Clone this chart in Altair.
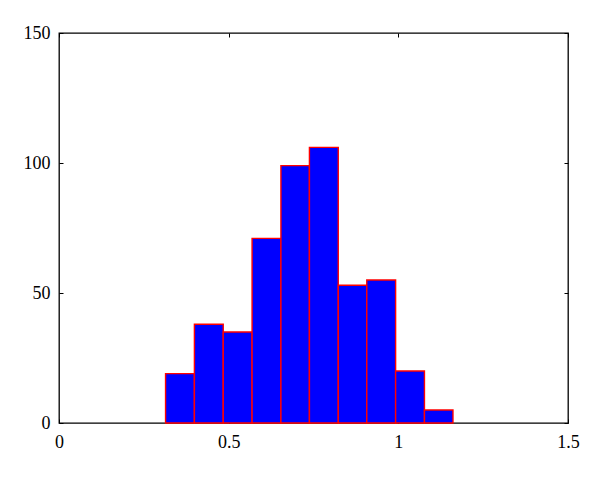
import altair as alt
import pandas as pd

bin_edges = [0.314, 0.399, 0.484, 0.569, 0.654, 0.738, 0.823, 0.907, 0.992, 1.077, 1.161]
counts = [19, 38, 35, 71, 99, 106, 53, 55, 20, 5]
x_ticks = [0, 0.5, 1, 1.5]
y_ticks = [0, 50, 100, 150]

df = pd.DataFrame({
    "start": bin_edges[:-1],
    "end": bin_edges[1:],
    "count": counts,
})

FONT = "Liberation Serif"
FS = 18

xscale = alt.Scale(domain=[0, 1.5], nice=False, zero=False)
yscale = alt.Scale(domain=[0, 150], nice=False)

bars = alt.Chart(df).mark_rect(fill="#0000ff", stroke="#ff0000", strokeWidth=1.4).encode(
    x=alt.X("start:Q", scale=xscale, title=None,
            axis=alt.Axis(orient="bottom", values=x_ticks, domain=False, grid=False,
                          offset=-4, tickSize=4, tickColor="black", labelPadding=10,
                          labelExpr="datum.value",
                          labelFont=FONT, labelFontSize=FS, labelColor="black",
                          labelFlush=False, labelOverlap=False)),
    x2="end:Q",
    y=alt.Y("count:Q", scale=yscale, title=None,
            axis=alt.Axis(orient="left", values=y_ticks, domain=False, grid=False,
                          offset=-4, tickSize=4, tickColor="black", labelPadding=9,
                          labelFont=FONT, labelFontSize=FS, labelColor="black",
                          labelFlush=False, labelOverlap=False)),
    y2=alt.datum(0),
)

frame = alt.Chart(df).mark_point(opacity=0).encode(
    x=alt.X("start:Q", scale=xscale, title=None,
            axis=alt.Axis(orient="top", values=x_ticks, domain=False, grid=False,
                          offset=-4, tickSize=4, tickColor="black", labels=False)),
    y=alt.Y("count:Q", scale=yscale, title=None,
            axis=alt.Axis(orient="right", values=y_ticks, domain=False, grid=False,
                          offset=-4, tickSize=4, tickColor="black", labels=False)),
)

chart = alt.layer(bars, frame).resolve_axis(x="independent", y="independent").properties(
    width=509, height=390,
    background="white",
    autosize=alt.AutoSizeParams(type="none"),
    padding={"left": 51, "top": 25, "right": 24, "bottom": 55},
).configure_view(stroke="black", strokeWidth=1.3)

chart.save("out.html", embed_options={"renderer": "svg", "actions": False})
